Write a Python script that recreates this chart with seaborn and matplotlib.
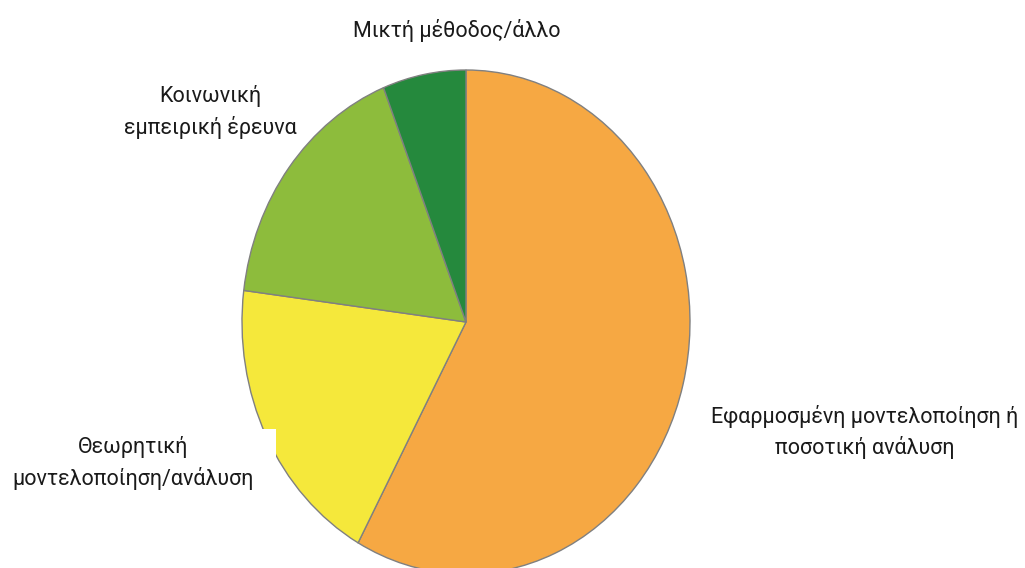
import matplotlib
matplotlib.use("Agg")
import matplotlib.pyplot as plt
from matplotlib.patches import Rectangle
import seaborn as sns

# Research approach shares (%), clockwise from 12 o'clock
categories = [
    "Εφαρμοσμένη μοντελοποίηση ή\nποσοτική ανάλυση",
    "Θεωρητική\nμοντελοποίηση/ανάλυση",
    "Κοινωνική\nεμπειρική έρευνα",
    "Μικτή μέθοδος/άλλο",
]
shares = [58, 19, 17, 6]
colors = ["#F6A843", "#F5E83B", "#8DBC3C", "#25893D"]

sns.set_theme(style="white")
plt.rcParams["font.family"] = ["Roboto", "DejaVu Sans"]

W, H = 1025, 568
fig = plt.figure(figsize=(W / 100, H / 100), dpi=100)
fig.patch.set_facecolor("white")

# pie centre and radii in pixels (slightly taller than wide)
cx, cy = 466, H - 322
rx, ry = 224, 252
ax = fig.add_axes([(cx - rx) / W, (cy - ry) / H, 2 * rx / W, 2 * ry / H])

ax.pie(
    shares,
    colors=colors,
    startangle=90,
    counterclock=False,
    wedgeprops=dict(edgecolor="#808080", linewidth=1.0),
)
ax.set_aspect("auto")
ax.set_xlim(-1, 1)
ax.set_ylim(-1, 1)
ax.axis("off")

# label box behind the theory label
fig.patches.append(Rectangle((0, (H - 470) / H), 276 / W, 41 / H,
                             transform=fig.transFigure, facecolor="white",
                             edgecolor="none", zorder=3))

label_pos = [(865, 432), (133, 463), (210, 112), (457, 30)]
for name, (px, py) in zip(categories, label_pos):
    fig.text(px / W, (H - py) / H, name, ha="center", va="center",
             fontsize=15.5, color="#1a1a1a", linespacing=1.45, zorder=4)

fig.savefig("out.png", dpi=100, facecolor="white")
